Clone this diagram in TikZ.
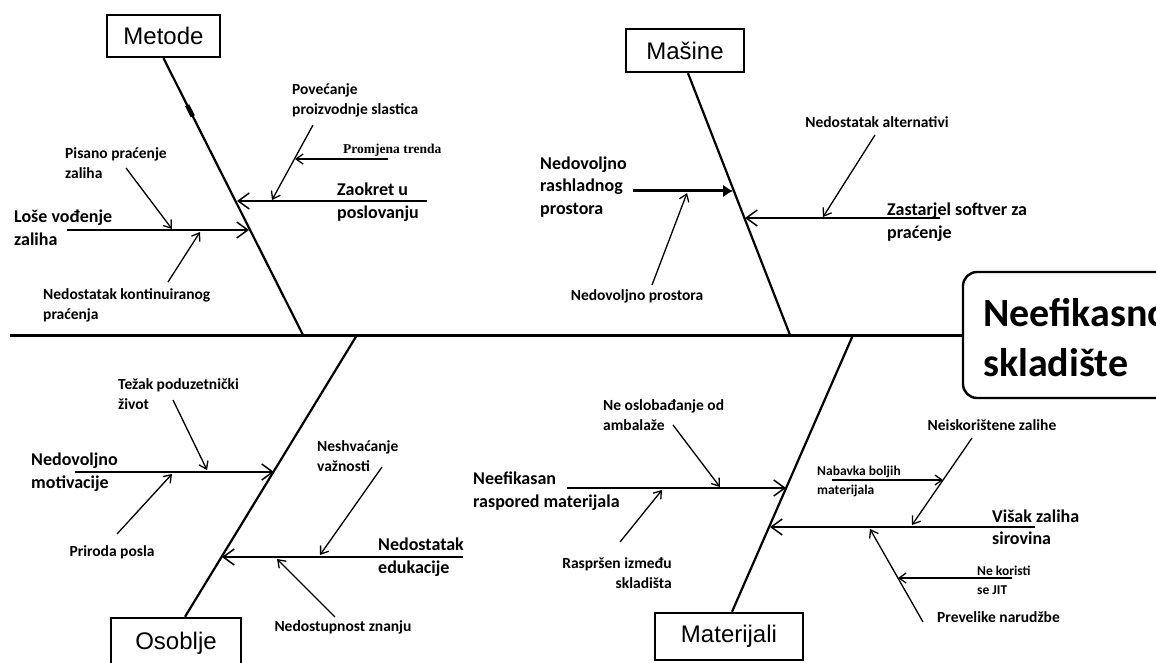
\documentclass[tikz,border=0pt]{standalone}
\usepackage{fontspec}
\setmainfont{Carlito}
\newfontfamily\boxfont{Liberation Sans}
\newfontfamily\seriflab{Liberation Serif}
\usetikzlibrary{arrows.meta,calc}
\begin{document}
\begin{tikzpicture}[x=1pt,y=-1pt,
  spine/.style={line width=3pt},
  bone/.style={line width=2.2pt},
  branch/.style={line width=1.8pt,-{Straight Barb[length=11pt,width=16pt,line width=1.5pt]}},
  subarr/.style={line width=1.3pt,-{Straight Barb[length=7pt,width=10pt,line width=1.3pt]}},
  thickarr/.style={line width=3pt,-{Latex[length=10pt,width=13pt]}},
  cat/.style={draw,line width=2.4pt,inner sep=0pt,font=\boxfont\fontsize{24}{28}\selectfont},
  lab/.style={inner sep=0pt,align=left,font=\bfseries\fontsize{15.5}{20}\selectfont},
  biglab/.style={inner sep=0pt,align=left,font=\bfseries\fontsize{18}{22.5}\selectfont},
  tinylab/.style={inner sep=0pt,align=left,font=\bfseries\fontsize{13.5}{19}\selectfont},
]
\useasboundingbox (0,0) rectangle (1156,663);
\clip (0,0) rectangle (1156,663);

% category boxes and head
\node[cat,minimum width=113pt,minimum height=42pt] (metode) at (163.5,36) {Metode};
\node[cat,minimum width=118pt,minimum height=43pt] (masine) at (685,50.5) {Mašine};
\node[cat,minimum width=130pt,minimum height=50pt] (osoblje) at (176,643) {Osoblje};
\node[cat,minimum width=148pt,minimum height=47pt] (materijali) at (729,636.5) {Materijali};
\node[draw,line width=2.4pt,rounded corners=14pt,minimum width=217pt,minimum height=126pt] (head) at (1071.5,335) {};
\node[anchor=west,inner sep=0pt,align=left,font=\bfseries\fontsize{40}{50}\selectfont] (headtxt) at (983,338) {Neefikasno\\skladište};

% spine
\coordinate (s0) at (10,335);
\draw[spine] (s0) -- (head.west);

% bones
\coordinate (mE) at (303,335);
\coordinate (aE) at (790,335);
\coordinate (oE) at (357,335);
\coordinate (tE) at (853,335);
\draw[bone] (metode.south) -- (mE);
\draw[bone] ([xshift=3pt]masine.south) -- (aE);
\draw[bone] (oE) -- ([xshift=9pt]osoblje.north);
\draw[bone] (tE) -- ([xshift=3pt]materijali.north);
% small thickening on Metode bone
\coordinate (mk1) at ($(metode.south)!0.17!(mE)$);
\coordinate (mk2) at ($(metode.south)!0.21!(mE)$);
\draw[line width=4.5pt] (mk1) -- (mk2);

% ---------- Metode ----------
\coordinate (m1s) at (67,230);   \coordinate (m1e) at (249,230);
\coordinate (m2s) at (427,201);  \coordinate (m2e) at (237,201);
\draw[branch] (m1s) -- (m1e);
\draw[branch] (m2s) -- (m2e);
\coordinate (m3s) at (126,168);  \coordinate (m3e) at (172,229);
\coordinate (m4s) at (168,282);  \coordinate (m4e) at (200,232);
\coordinate (m5s) at (313,125);  \coordinate (m5e) at (272,200);
\coordinate (m6s) at (388,159);  \coordinate (m6e) at (295,159);
\draw[subarr] (m3s) -- (m3e);
\draw[subarr] (m4s) -- (m4e);
\draw[subarr] (m5s) -- (m5e);
\draw[subarr] (m6s) -- (m6e);
\node[lab,anchor=west] (l1) at (292,100) {Povećanje\\proizvodnje slastica};
\node[lab,anchor=west] (l2) at (65,163) {Pisano praćenje\\zaliha};
\node[biglab,anchor=west] (l3) at (14,228) {Loše vođenje\\zaliha};
\node[lab,anchor=west] (l4) at (43,305) {Nedostatak kontinuiranog\\praćenja};
\node[inner sep=0pt,anchor=west,font=\seriflab\bfseries\fontsize{13.5}{16}\selectfont] (l5) at (343,150) {Promjena trenda};
\node[biglab,anchor=west] (l6) at (337,202) {Zaokret u\\poslovanju};

% ---------- Masine ----------
\coordinate (a1s) at (633,191);  \coordinate (a1e) at (733,191);
\coordinate (a2s) at (940,218);  \coordinate (a2e) at (745,218);
\draw[thickarr] (a1s) -- (a1e);
\draw[branch] (a2s) -- (a2e);
\coordinate (a3s) at (652,285);  \coordinate (a3e) at (687,193);
\coordinate (a4s) at (875,135);  \coordinate (a4e) at (823,217);
\draw[subarr] (a3s) -- (a3e);
\draw[subarr] (a4s) -- (a4e);
\node[biglab,anchor=west] (l7) at (540,187) {Nedovoljno\\rashladnog\\prostora};
\node[lab] (l8) at (637,296) {Nedovoljno prostora};
\node[lab] (l9) at (877,122) {Nedostatak alternativi};
\node[biglab,anchor=west] (l10) at (887,222) {Zastarjel softver za\\praćenje};

% ---------- Osoblje ----------
\coordinate (o1s) at (75,472);   \coordinate (o1e) at (274,472);
\coordinate (o2s) at (463,557);  \coordinate (o2e) at (222,557);
\draw[branch] (o1s) -- (o1e);
\draw[branch] (o2s) -- (o2e);
\coordinate (o3s) at (173,400);  \coordinate (o3e) at (207,470);
\coordinate (o4s) at (117,534);  \coordinate (o4e) at (172,474);
\coordinate (o5s) at (382,467);  \coordinate (o5e) at (320,555);
\coordinate (o6s) at (335,617);  \coordinate (o6e) at (277,559);
\draw[subarr] (o3s) -- (o3e);
\draw[subarr] (o4s) -- (o4e);
\draw[subarr] (o5s) -- (o5e);
\draw[subarr] (o6s) -- (o6e);
\node[lab,anchor=west] (l11) at (118,394) {Težak poduzetnički\\život};
\node[biglab,anchor=west] (l12) at (31,472) {Nedovoljno\\motivacije};
\node[lab] (l13) at (112,552) {Priroda posla};
\node[lab,anchor=west] (l14) at (317,456) {Neshvaćanje\\važnosti};
\node[biglab,anchor=west] (l15) at (378,557) {Nedostatak\\edukacije};
\node[lab] (l16) at (343,627) {Nedostupnost znanju};

% ---------- Materijali ----------
\coordinate (t1s) at (567,488);  \coordinate (t1e) at (786,488);
\coordinate (t2s) at (1035,527); \coordinate (t2e) at (770,527);
\draw[branch] (t1s) -- (t1e);
\draw[branch] (t2s) -- (t2e);
\coordinate (t3s) at (673,425);  \coordinate (t3e) at (720,487);
\coordinate (t4s) at (620,542);  \coordinate (t4e) at (662,490);
\coordinate (t5s) at (972,438);  \coordinate (t5e) at (912,525);
\coordinate (t6s) at (832,480);  \coordinate (t6e) at (943,480);
\coordinate (t7s) at (923,622);  \coordinate (t7e) at (870,529);
\coordinate (t8s) at (1012,578); \coordinate (t8e) at (898,578);
\draw[subarr] (t3s) -- (t3e);
\draw[subarr] (t4s) -- (t4e);
\draw[subarr] (t5s) -- (t5e);
\draw[subarr] (t6s) -- (t6e);
\draw[subarr] (t7s) -- (t7e);
\draw[subarr] (t8s) -- (t8e);
\node[lab,anchor=west] (l17) at (603,415) {Ne oslobađanje od\\ambalaže};
\node[biglab,anchor=west] (l18) at (473,491) {Neefikasan\\raspored materijala};
\node[lab,anchor=east,align=right] (l19) at (672,573) {Raspršen između\\skladišta};
\node[lab] (l20) at (992,425) {Neiskorištene zalihe};
\node[tinylab,anchor=west] (l21) at (817,481) {Nabavka boljih\\materijala};
\node[biglab,anchor=west] (l22) at (992,527) {Višak zaliha\\sirovina};
\node[tinylab,anchor=west] (l23) at (977,580) {Ne koristi\\se JIT};
\node[lab,anchor=west] (l24) at (937,617) {Prevelike narudžbe};
\end{tikzpicture}
\end{document}
